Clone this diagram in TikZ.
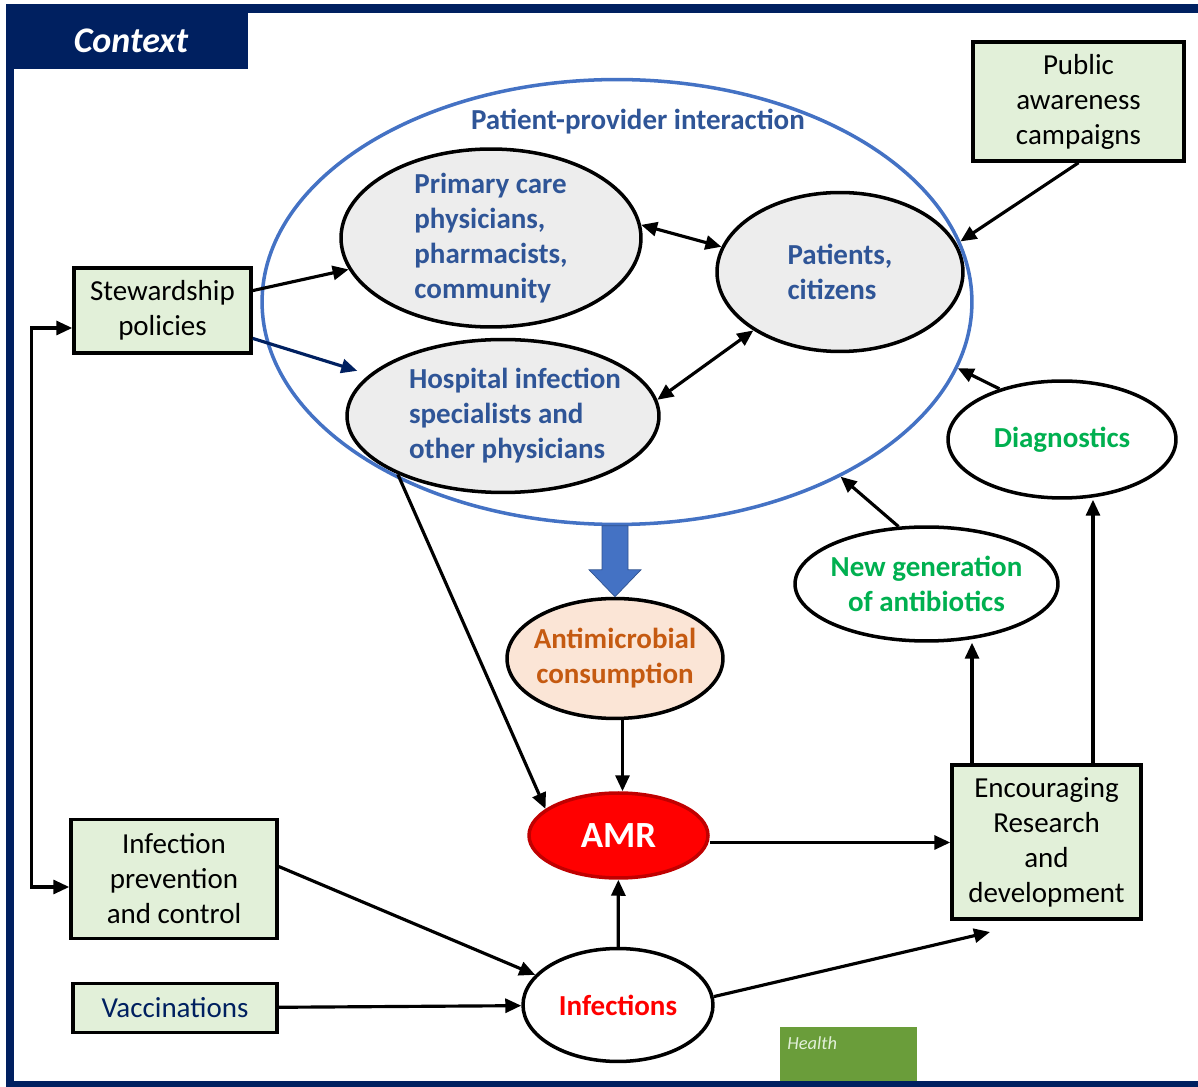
\documentclass[tikz,border=0pt]{standalone}
\usepackage{fontspec}
\setmainfont{Carlito}
\usepackage{tikz}
\usetikzlibrary{arrows.meta, shapes, positioning}

\definecolor{navy}{HTML}{002060}
\definecolor{boxgreen}{HTML}{E2F0D9}
\definecolor{ellgrey}{HTML}{EDEDED}
\definecolor{txtblue}{HTML}{2F5597}
\definecolor{ringblue}{HTML}{4472C4}
\definecolor{arrowedge}{HTML}{2F528F}
\definecolor{txtgreen}{HTML}{00B050}
\definecolor{txtorange}{HTML}{C55A11}
\definecolor{peach}{HTML}{FBE5D6}
\definecolor{darkred}{HTML}{C00000}
\definecolor{healthgreen}{HTML}{6A9D3A}

\newcommand\diagfont{\fontsize{16.5}{19.9}\selectfont}
\newcommand\indentline{\hspace*{0.48cm}}

\tikzset{
	policy/.style={draw, line width=2pt, fill=boxgreen, align=center, inner sep=0pt},
	actor/.style={ellipse, draw, line width=2pt, fill=ellgrey, inner sep=-1cm, align=left, text=txtblue, font=\diagfont\bfseries},
	outcome/.style={ellipse, draw, line width=2pt, fill=white, inner sep=-1cm, align=center, font=\diagfont\bfseries},
	arr/.style={line width=1.8pt, -{Triangle[length=0.32cm, width=0.28cm]}},
	biarr/.style={line width=1.8pt, {Triangle[length=0.32cm, width=0.28cm]}-{Triangle[length=0.32cm, width=0.28cm]}},
}

\begin{document}
\begin{tikzpicture}[x=0.02cm, y=-0.02cm, font=\diagfont]
	\useasboundingbox (0,0) rectangle (1198,1087);
	
	% frame
	\fill[healthgreen] (780,1027) rectangle (917,1083);
	\node[anchor=base west, inner sep=0pt, text=boxgreen, font=\fontsize{10.5}{12}\selectfont\itshape] (health) at (787,1050) {Health};
	\fill[navy] (6,4) rectangle (1198,13);
	\fill[navy] (6,4) rectangle (14,1087);
	\fill[navy] (6,1081) rectangle (1198,1087);
	\fill[navy] (6,4) rectangle (248,69);
	\node[text=white, font=\fontsize{20.5}{24}\selectfont\bfseries\itshape] (ctx) at (131,41) {Context};
	
	% patient-provider interaction
	\node[actor, minimum width=6cm, minimum height=3.56cm] (prim) at (491,238) {Primary care\\physicians,\\pharmacists,\\community};
	\node[actor, minimum width=4.92cm, minimum height=3.18cm] (pat) at (840,272) {Patients,\\citizens};
	\node[actor, minimum width=6.24cm, minimum height=3.06cm] (hosp) at (503,416) {\indentline Hospital infection\\\indentline specialists and\\\indentline other physicians};
	\node[ellipse, draw=ringblue, line width=2pt, minimum width=14.2cm, minimum height=8.9cm] (ppi) at (617,302) {};
	\node[text=txtblue, font=\diagfont\bfseries] (ppilabel) at (638,122) {Patient-provider interaction};
	
	% policies
	\node[policy, minimum width=3.54cm, minimum height=1.7cm] (stew) at (162.5,310.5) {Stewardship\\policies};
	\node[policy, minimum width=4.22cm, minimum height=2.38cm] (pub) at (1078.5,101.5) {Public\\awareness\\campaigns};
	\node[policy, minimum width=4.12cm, minimum height=2.38cm] (ipc) at (174,879) {Infection\\prevention\\and control};
	\node[policy, minimum width=4.08cm, minimum height=0.98cm, text=navy] (vac) at (175,1008) {Vaccinations};
	\node[policy, minimum width=3.78cm, minimum height=3.08cm] (enc) at (1046.5,842) {Encouraging\\Research\\and\\development};
	
	% outcomes
	\node[outcome, fill=peach, text=txtorange, minimum width=4.32cm, minimum height=2.4cm] (am) at (615,658.5) {Antimicrobial\\consumption};
	\node[outcome, fill=red, draw=darkred, text=white, minimum width=3.58cm, minimum height=1.7cm, font=\fontsize{21}{25}\selectfont\bfseries] (amr) at (618.5,835.5) {AMR};
	\node[outcome, text=red, minimum width=3.8cm, minimum height=2.26cm] (inf) at (618,1005) {Infections};
	\node[outcome, text=txtgreen, minimum width=5.26cm, minimum height=2.28cm] (ng) at (926.5,584) {New generation\\of antibiotics};
	\node[outcome, text=txtgreen, minimum width=4.56cm, minimum height=2.34cm] (diag) at (1062,439.5) {Diagnostics};
	\coordinate (rdend) at (990,932);
	
	% connectors
	\draw[arr] (stew) -- (prim);
	\draw[arr, navy, shorten >=0.25cm] (stew) -- (hosp);
	\draw[biarr] ([yshift=-0.35cm]stew.west) -- ++(-41,0) |- ([yshift=-0.16cm]ipc.west);
	\draw[biarr] (prim.5) -- (pat.168);
	\draw[biarr] (pat.214) -- (hosp.6);
	\draw[arr] (pub.south) -- (ppi.10);
	\draw[arr] (diag.141) -- (ppi.-11);
	\draw[arr] (ng.116) -- (ppi.-38);
	\draw[arr] (hosp.209) -- (amr.160);
	\filldraw[fill=ringblue, draw=arrowedge, line width=0.4pt] (am.north) -- ++(-26,-27) -- ++(13,0) -- ++(0,-44) -- ++(26,0) -- ++(0,44) -- ++(13,0) -- cycle;
	\draw[arr] ([xshift=0.08cm]amr.north |- am.south) -- ([xshift=0.08cm]amr.north);
	\draw[arr] ([yshift=-0.14cm]amr.east) -- ([yshift=-0.14cm]amr.east -| enc.west);
	\draw[arr] (inf) -- (amr);
	\draw[arr] ([yshift=0.25cm]ipc.east) -- (inf.160);
	\draw[arr] (vac) -- (inf);
	\draw[arr] (inf.5) -- (rdend);
	\draw[arr] ([xshift=-1.49cm]enc.north) -- ([xshift=-1.49cm]enc.north |- ng.south);
	\draw[arr] ([xshift=0.93cm]enc.north) -- ([xshift=0.93cm]enc.north |- diag.south);
	
\end{tikzpicture}
\end{document}
